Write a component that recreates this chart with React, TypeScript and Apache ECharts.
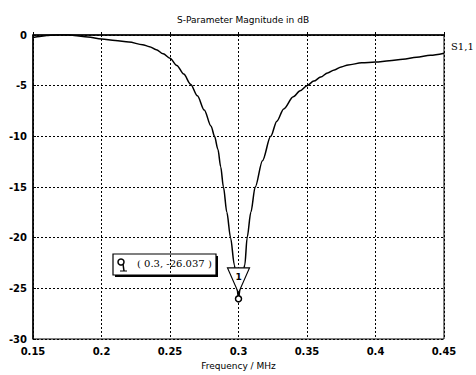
import React, { useEffect, useRef } from "react";
import * as echarts from "echarts";

const titleText = "S-Parameter Magnitude in dB";
const xAxisName = "Frequency / MHz";
const seriesName = "S1,1";
const frequency = [
  0.15, 0.155, 0.16, 0.165, 0.17, 0.175, 0.18, 0.19, 0.2, 0.21, 0.22, 0.23, 0.235, 0.24,
  0.245, 0.25, 0.255, 0.26, 0.265, 0.27, 0.275, 0.28, 0.2825, 0.285, 0.287, 0.289, 0.2915,
  0.2942, 0.297, 0.2985, 0.3, 0.3015, 0.303, 0.3046, 0.3063, 0.309, 0.3122, 0.3175, 0.3235,
  0.328, 0.333, 0.34, 0.345, 0.35, 0.355, 0.36, 0.365, 0.37, 0.375, 0.38, 0.39, 0.4, 0.41,
  0.42, 0.43, 0.44, 0.45,
];
const magnitudeDb = [
  -0.25, -0.15, -0.06, 0.0, 0.04, 0.03, -0.04, -0.2, -0.4, -0.55, -0.7, -0.95, -1.15, -1.45,
  -1.85, -2.3, -3.0, -3.85, -4.85, -6.0, -7.4, -9.0, -10.0, -11.3, -13.0, -15.0, -17.5,
  -20.0, -22.7, -24.4, -26.037, -24.6, -23.6, -22.7, -20.0, -17.5, -15.0, -12.4, -10.0,
  -8.5, -7.3, -6.1, -5.5, -5.0, -4.55, -4.15, -3.75, -3.45, -3.15, -2.95, -2.75, -2.66,
  -2.55, -2.4, -2.2, -2.0, -1.8,
];
const markerFreq = 0.3;
const markerDb = -26.037;
const markerLabel = "1";

export default function App() {
  const ref = useRef<HTMLDivElement>(null);
  useEffect(() => {
    if (!ref.current) return;
    const chart = echarts.init(ref.current, undefined, { renderer: "svg" });
    const data = frequency.map((f, i) => [f, magnitudeDb[i]]);
    const font = "DejaVu Sans";
    chart.setOption({
      animation: false,
      backgroundColor: "#fff",
      title: {
        text: titleText,
        left: 238,
        textAlign: "center",
        top: 10,
        textStyle: { fontFamily: font, fontSize: 9, fontWeight: "normal", color: "#000" },
      },
      grid: {
        left: 33,
        right: 32,
        top: 35,
        bottom: 36,
        show: true,
        borderColor: "#000",
        borderWidth: 1,
        backgroundColor: "#fff",
      },
      xAxis: {
        type: "value",
        min: 0.15,
        max: 0.45,
        interval: 0.05,
        name: xAxisName,
        nameLocation: "middle",
        nameGap: 22,
        nameTextStyle: { fontFamily: font, fontSize: 9, color: "#000" },
        axisLine: { show: true, lineStyle: { color: "#000", width: 1.5 } },
        axisTick: { show: true, length: 3, inside: true, lineStyle: { color: "#000" } },
        axisLabel: {
          fontFamily: font,
          fontSize: 10,
          fontWeight: "bold",
          color: "#000",
          margin: 7,
          formatter: (v: number) => String(+v.toFixed(2)),
        },
        splitLine: { show: true, lineStyle: { color: "#000", type: [2, 2], width: 1 } },
      },
      yAxis: {
        type: "value",
        min: -30,
        max: 0,
        interval: 5,
        axisLine: { show: true, lineStyle: { color: "#000", width: 1.5 } },
        axisTick: { show: true, length: 3, inside: true, lineStyle: { color: "#000" } },
        axisLabel: {
          fontFamily: font,
          fontSize: 10,
          fontWeight: "bold",
          color: "#000",
          margin: 6,
        },
        splitLine: { show: true, lineStyle: { color: "#000", type: [2, 2], width: 1 } },
      },
      series: [
        {
          type: "line",
          name: seriesName,
          data,
          symbol: "none",
          smooth: 0.3,
          smoothMonotone: "x",
          lineStyle: { color: "#000", width: 1.5 },
          markPoint: {
            silent: true,
            data: [
              {
                coord: [markerFreq, markerDb],
                symbol: "path://M0,0 L22,0 L11,25 Z M11,25 L11,31",
                symbolSize: [22, 31],
                symbolOffset: [0, -15.5],
                symbolKeepAspect: false,
                itemStyle: { color: "#fff", borderColor: "#000", borderWidth: 1.2 },
                label: {
                  show: true,
                  formatter: markerLabel,
                  position: "inside",
                  offset: [0, -6],
                  fontFamily: font,
                  fontSize: 9,
                  fontWeight: "bold",
                  color: "#000",
                },
              },
              {
                coord: [markerFreq, markerDb],
                symbol: "circle",
                symbolSize: 6,
                itemStyle: { color: "#fff", borderColor: "#000", borderWidth: 1.5 },
                label: { show: false },
              },
            ],
          },
        },
      ],
      graphic: [
        {
          type: "text",
          left: 451,
          top: 41,
          style: { text: seriesName, fontFamily: "DejaVu Serif", fontSize: 10, fill: "#000" },
        },
        {
          type: "rect",
          shape: { x: 115, y: 256, width: 103, height: 21 },
          style: { fill: "#000" },
        },
        {
          type: "rect",
          shape: { x: 113, y: 254, width: 103, height: 21 },
          style: { fill: "#fff", stroke: "#000", lineWidth: 1.2 },
        },
        {
          type: "circle",
          shape: { cx: 121, cy: 262, r: 3 },
          style: { fill: "#fff", stroke: "#000", lineWidth: 1.5 },
        },
        {
          type: "line",
          shape: { x1: 123, y1: 264, x2: 124, y2: 271 },
          style: { stroke: "#000", lineWidth: 1.5 },
        },
        {
          type: "line",
          shape: { x1: 120, y1: 271, x2: 127, y2: 271 },
          style: { stroke: "#000", lineWidth: 1 },
        },
        {
          type: "text",
          left: 137,
          top: 258,
          style: {
            text: `( ${markerFreq}, ${markerDb} )`,
            fontFamily: "DejaVu Serif",
            fontSize: 10,
            fill: "#000",
          },
        },
      ],
    });
    return () => chart.dispose();
  }, []);
  return (
    <div
      ref={ref}
      style={{ position: "fixed", left: 0, top: 0, width: 476, height: 375 }}
    />
  );
}
